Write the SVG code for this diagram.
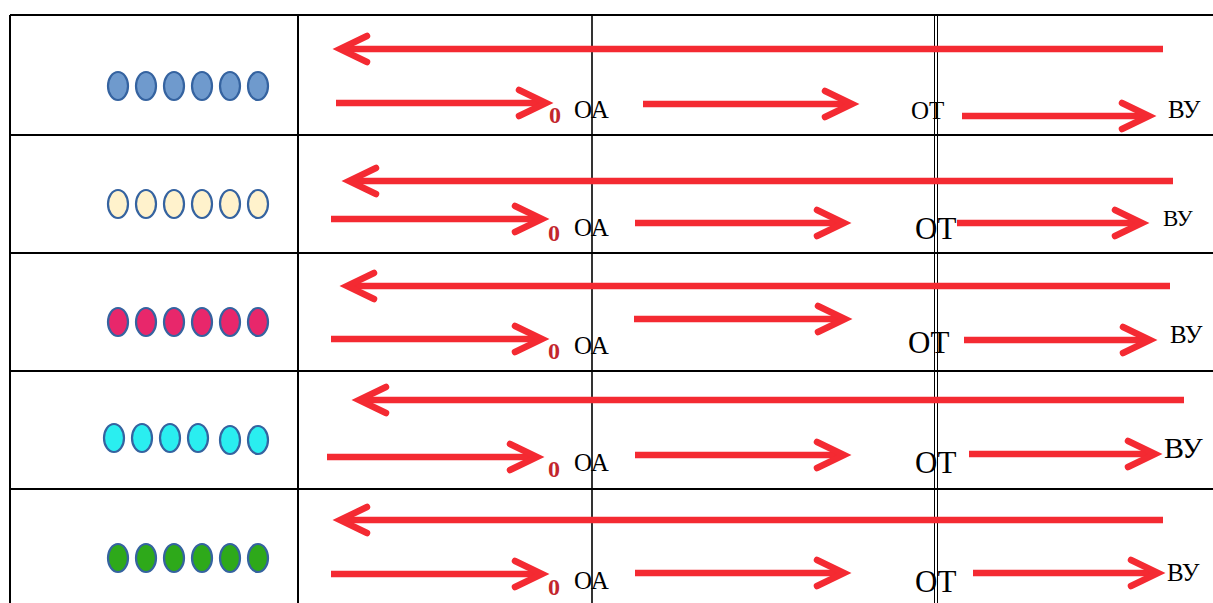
<svg xmlns="http://www.w3.org/2000/svg" width="1213" height="603" viewBox="0 0 1213 603">
<style>
.bg{fill:#ffffff}
.grid{stroke:#000;stroke-width:2;fill:none}
.thin{stroke:#000;stroke-width:1.6;fill:none}
.dbl{stroke:#000;stroke-width:1;fill:none}
.dot{stroke:#3563A0;stroke-width:2.2}
.shaft{stroke:#F42A32;stroke-width:6.5;fill:none;stroke-linecap:butt}
.head{stroke:#F42A32;stroke-width:6.5;fill:none;stroke-linecap:round;stroke-linejoin:miter;stroke-miterlimit:10}
.lbl{font-family:"Liberation Serif","Times New Roman",serif;fill:#000}
.zero{font-family:"Liberation Serif","Times New Roman",serif;font-weight:bold;fill:#C3262D;font-size:24px}
</style>
<rect class="bg" x="0" y="0" width="1213" height="603"/>
<g id="table">
<path class="grid" d="M10 15 H1213 M10 135 H1213 M10 253 H1213 M10 371 H1213 M10 489 H1213 M10 15 V603 M298 15 V603"/>
<path class="thin" d="M592 15 V603"/>
<path class="dbl" d="M934.5 15 V603 M937.5 15 V603"/>
</g>
<g id="row1-dots" fill="#6F9ACD">
<ellipse class="dot" cx="118" cy="86" rx="10" ry="14"/><ellipse class="dot" cx="146" cy="86" rx="10" ry="14"/><ellipse class="dot" cx="174" cy="86" rx="10" ry="14"/><ellipse class="dot" cx="202" cy="86" rx="10" ry="14"/><ellipse class="dot" cx="230" cy="86" rx="10" ry="14"/><ellipse class="dot" cx="258" cy="86" rx="10" ry="14"/>
</g>
<g id="row2-dots" fill="#FFF2CC">
<ellipse class="dot" cx="118" cy="204" rx="10" ry="14"/><ellipse class="dot" cx="146" cy="204" rx="10" ry="14"/><ellipse class="dot" cx="174" cy="204" rx="10" ry="14"/><ellipse class="dot" cx="202" cy="204" rx="10" ry="14"/><ellipse class="dot" cx="230" cy="204" rx="10" ry="14"/><ellipse class="dot" cx="258" cy="204" rx="10" ry="14"/>
</g>
<g id="row3-dots" fill="#E8276B">
<ellipse class="dot" cx="118" cy="322" rx="10" ry="14"/><ellipse class="dot" cx="146" cy="322" rx="10" ry="14"/><ellipse class="dot" cx="174" cy="322" rx="10" ry="14"/><ellipse class="dot" cx="202" cy="322" rx="10" ry="14"/><ellipse class="dot" cx="230" cy="322" rx="10" ry="14"/><ellipse class="dot" cx="258" cy="322" rx="10" ry="14"/>
</g>
<g id="row4-dots" fill="#2AEEF0">
<ellipse class="dot" cx="114" cy="438" rx="10" ry="14"/><ellipse class="dot" cx="142" cy="438" rx="10" ry="14"/><ellipse class="dot" cx="170" cy="438" rx="10" ry="14"/><ellipse class="dot" cx="198" cy="438" rx="10" ry="14"/><ellipse class="dot" cx="230" cy="440" rx="10" ry="14"/><ellipse class="dot" cx="258" cy="440" rx="10" ry="14"/>
</g>
<g id="row5-dots" fill="#2EA91A">
<ellipse class="dot" cx="118" cy="558" rx="10" ry="14"/><ellipse class="dot" cx="146" cy="558" rx="10" ry="14"/><ellipse class="dot" cx="174" cy="558" rx="10" ry="14"/><ellipse class="dot" cx="202" cy="558" rx="10" ry="14"/><ellipse class="dot" cx="230" cy="558" rx="10" ry="14"/><ellipse class="dot" cx="258" cy="558" rx="10" ry="14"/>
</g>
<g id="connectors">
<!-- row 1 -->
<path class="shaft" d="M1163 49 H342"/><path class="head" d="M367 36 L340 49 L367 62"/>
<path class="shaft" d="M336 103 H544"/><path class="head" d="M519 90 L546 103 L519 116"/>
<path class="shaft" d="M643 104 H850"/><path class="head" d="M825 91 L852 104 L825 117"/>
<path class="shaft" d="M962 116 H1147"/><path class="head" d="M1122 103 L1149 116 L1122 129"/>
<!-- row 2 -->
<path class="shaft" d="M1173 181 H351"/><path class="head" d="M376 168 L349 181 L376 194"/>
<path class="shaft" d="M331 219 H540"/><path class="head" d="M515 206 L542 219 L515 232"/>
<path class="shaft" d="M635 223 H842"/><path class="head" d="M817 210 L844 223 L817 236"/>
<path class="shaft" d="M957 223 H1140"/><path class="head" d="M1115 210 L1142 223 L1115 236"/>
<!-- row 3 -->
<path class="shaft" d="M1170 286 H349"/><path class="head" d="M374 273 L347 286 L374 299"/>
<path class="shaft" d="M331 339 H540"/><path class="head" d="M515 326 L542 339 L515 352"/>
<path class="shaft" d="M634 319 H843"/><path class="head" d="M818 306 L845 319 L818 332"/>
<path class="shaft" d="M964 340 H1148"/><path class="head" d="M1123 327 L1150 340 L1123 353"/>
<!-- row 4 -->
<path class="shaft" d="M1184 400 H361"/><path class="head" d="M386 387 L359 400 L386 413"/>
<path class="shaft" d="M327 457 H535"/><path class="head" d="M510 444 L537 457 L510 470"/>
<path class="shaft" d="M635 455 H842"/><path class="head" d="M817 442 L844 455 L817 468"/>
<path class="shaft" d="M969 454 H1153"/><path class="head" d="M1128 441 L1155 454 L1128 467"/>
<!-- row 5 -->
<path class="shaft" d="M1163 520 H342"/><path class="head" d="M367 507 L340 520 L367 533"/>
<path class="shaft" d="M331 574 H540"/><path class="head" d="M515 561 L542 574 L515 587"/>
<path class="shaft" d="M635 573 H842"/><path class="head" d="M817 560 L844 573 L817 586"/>
<path class="shaft" d="M973 573 H1156"/><path class="head" d="M1131 560 L1158 573 L1131 586"/>
</g>
<g id="labels">
<text class="zero" x="549" y="123">0</text>
<text class="lbl" x="574" y="118" font-size="25">ОА</text>
<text class="lbl" x="911" y="119" font-size="25">ОТ</text>
<text class="lbl" x="1168" y="118" font-size="25">ВУ</text>

<text class="zero" x="548" y="241">0</text>
<text class="lbl" x="574" y="236" font-size="25">ОА</text>
<text class="lbl" x="915" y="239" font-size="31">ОТ</text>
<text class="lbl" x="1163" y="226" font-size="23">ВУ</text>

<text class="zero" x="548" y="359">0</text>
<text class="lbl" x="574" y="354" font-size="25">ОА</text>
<text class="lbl" x="908" y="353" font-size="31">ОТ</text>
<text class="lbl" x="1170" y="343" font-size="25">ВУ</text>

<text class="zero" x="548" y="477">0</text>
<text class="lbl" x="574" y="471" font-size="25">ОА</text>
<text class="lbl" x="915" y="473" font-size="31">ОТ</text>
<text class="lbl" x="1164" y="458" font-size="30">ВУ</text>

<text class="zero" x="548" y="595">0</text>
<text class="lbl" x="574" y="589" font-size="25">ОА</text>
<text class="lbl" x="915" y="592" font-size="31">ОТ</text>
<text class="lbl" x="1167" y="581" font-size="25">ВУ</text>
</g>
</svg>
